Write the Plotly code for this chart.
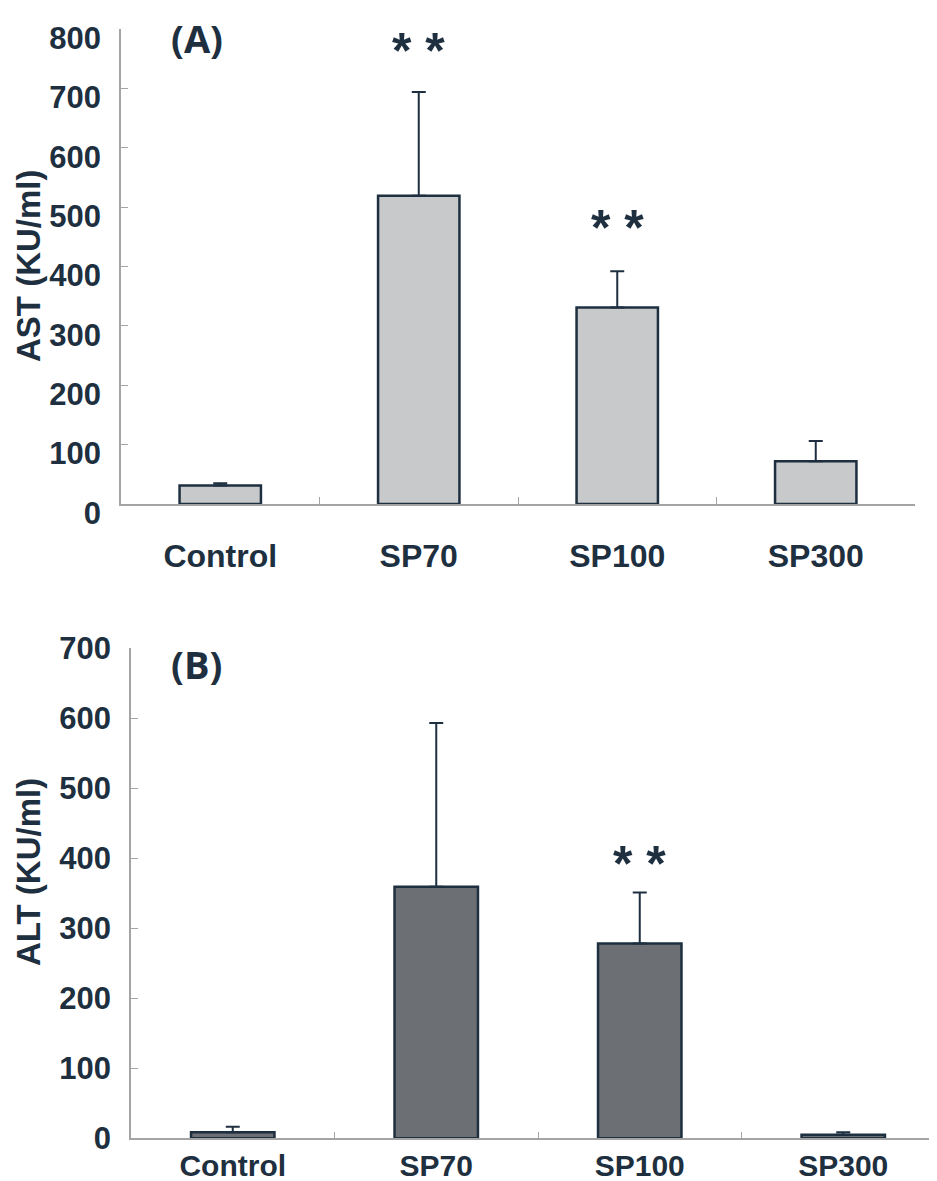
import plotly.graph_objects as go

# ---------------- data ----------------
categories = ["Control", "SP70", "SP100", "SP300"]

ast_mean = [31, 519, 331, 72]
ast_err = [4, 175, 61, 34]

alt_mean = [8.6, 359, 278, 5]
alt_err = [8, 234, 73, 3.5]

ast_ticks = [0, 100, 200, 300, 400, 500, 600, 700, 800]
alt_ticks = [0, 100, 200, 300, 400, 500, 600, 700]

# significance marks: (category, y position in data units)
ast_sig_cat = ["SP70", "SP100"]
ast_sig_y = [774, 476]
alt_sig_cat = ["SP100"]
alt_sig_y = [402]

# ---------------- style ----------------
OFF = 8  # default page body margin
W, H = 937 - OFF, 1181 - OFF
INK = "#1e2f40"
AXIS = "#a4a4a4"
FONT = "Liberation Sans, Arial, sans-serif"


def px_(x):
    return (x - OFF) / W


def py(y):
    return 1 - (y - OFF) / H


fig = go.Figure()

fig.add_trace(go.Bar(
    x=categories, y=ast_mean, width=0.41,
    marker=dict(color="#c7c9cb", line=dict(color=INK, width=2.5)),
    error_y=dict(type="data", array=ast_err, arrayminus=[0] * 4, symmetric=False,
                 color=INK, thickness=2, width=7),
    xaxis="x", yaxis="y", showlegend=False,
))

fig.add_trace(go.Bar(
    x=categories, y=alt_mean, width=0.41,
    marker=dict(color="#6c7074", line=dict(color=INK, width=2.5)),
    error_y=dict(type="data", array=alt_err, arrayminus=[0] * 4, symmetric=False,
                 color=INK, thickness=2, width=7),
    xaxis="x2", yaxis="y2", showlegend=False,
))

xcommon = dict(
    type="category", showline=True, linecolor=AXIS, linewidth=1.5,
    ticks="inside", tickson="boundaries", ticklen=7, tickcolor=AXIS, tickwidth=1,
    showgrid=False, zeroline=False, automargin=False,
    tickfont=dict(family=FONT, size=32, color=INK, weight="bold"),
)
ycommon = dict(
    showline=True, linecolor=AXIS, linewidth=1.5,
    ticks="inside", ticklen=7, tickcolor=AXIS, tickwidth=1,
    showgrid=False, zeroline=False, automargin=False,
    tickfont=dict(family=FONT, size=31, color=INK, weight="bold"),
    ticklabelstandoff=12,
)

fig.update_layout(
    width=W, height=H,
    margin=dict(l=0, r=0, t=0, b=0),
    paper_bgcolor="white", plot_bgcolor="white",
    xaxis=dict(xcommon, domain=[px_(121), px_(915)], range=[-0.5, 3.5],
               anchor="y", ticklabelstandoff=23),
    yaxis=dict(ycommon, domain=[py(504), py(29)], range=[0, 800],
               tickvals=ast_ticks, anchor="x", ticklabelshift=9),
    xaxis2=dict(xcommon, domain=[px_(131), 1.0],
                range=[-0.5, -0.5 + (937 - 131) / 203.5],
                anchor="y2", ticklabelstandoff=0,
                tickfont=dict(family=FONT, size=30, color=INK, weight="bold")),
    yaxis2=dict(ycommon, domain=[py(1138.3), py(648)], range=[0, 700],
                tickvals=alt_ticks, anchor="x2"),
)

annotations = []
# panel labels
annotations.append(dict(text="(A)", x=px_(197), y=py(38), xref="paper", yref="paper",
                        xanchor="center", yanchor="middle", showarrow=False,
                        font=dict(family="Open Sans", size=38, color=INK, weight="bold")))
annotations.append(dict(text="(B)", x=px_(196), y=py(664), xref="paper", yref="paper",
                        xanchor="center", yanchor="middle", showarrow=False,
                        font=dict(family="Open Sans", size=38, color=INK, weight="bold")))
# y titles
annotations.append(dict(text="AST (KU/ml)", x=px_(28), y=py(266), xref="paper", yref="paper",
                        xanchor="center", yanchor="middle", textangle=-90, showarrow=False,
                        font=dict(family=FONT, size=33, color=INK, weight="bold")))
annotations.append(dict(text="ALT (KU/ml)", x=px_(28), y=py(872), xref="paper", yref="paper",
                        xanchor="center", yanchor="middle", textangle=-90, showarrow=False,
                        font=dict(family=FONT, size=33, color=INK, weight="bold")))
# significance
for c, yv in zip(ast_sig_cat, ast_sig_y):
    annotations.append(dict(text="* *", x=c, y=yv, xref="x", yref="y", showarrow=False,
                            xanchor="center", yanchor="middle", yshift=-7,
                            font=dict(family=FONT, size=50, color=INK, weight="bold")))
for c, yv in zip(alt_sig_cat, alt_sig_y):
    annotations.append(dict(text="* *", x=c, y=yv, xref="x2", yref="y2", showarrow=False,
                            xanchor="center", yanchor="middle", yshift=-7,
                            font=dict(family=FONT, size=50, color=INK, weight="bold")))

fig.update_layout(annotations=annotations)

fig.write_html("out.html")
